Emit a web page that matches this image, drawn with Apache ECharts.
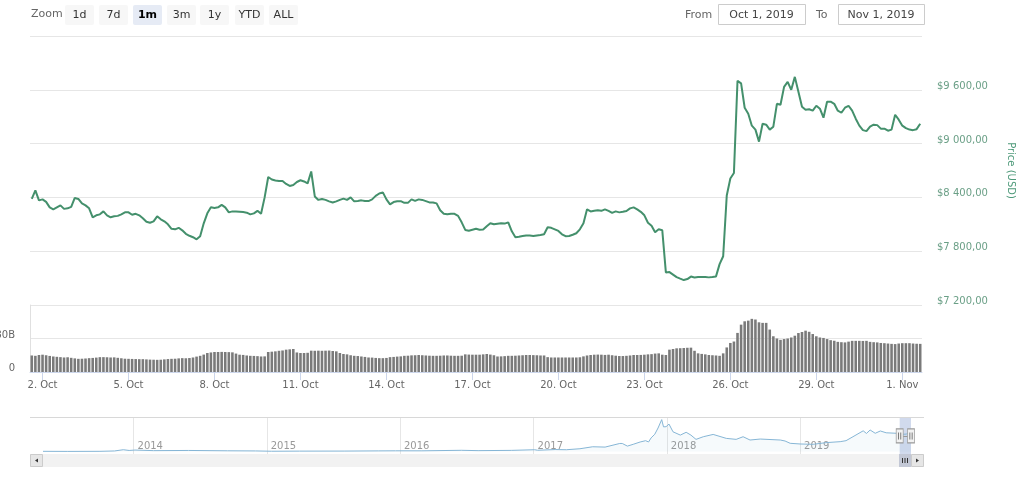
<!DOCTYPE html>
<html><head><meta charset="utf-8">
<script src="https://cdn.jsdelivr.net/npm/echarts@6/dist/echarts.min.js"></script>
<style>html,body{margin:0;padding:0;background:#fff}#c{width:1024px;height:477px}</style>
</head><body><div id="c"></div>
<script>
// ---- data (3-hourly samples, first sample Oct 1 2019 15:00 UTC) ----
const startTime = Date.UTC(2019, 9, 1, 15);
const stepHours = 3;
const price = [
 8383,8478,8367,8378,8350,8289,8267,8289,
 8311,8272,8278,8294,8394,8383,8333,8311,
 8278,8178,8200,8211,8244,8200,8178,8189,
 8194,8211,8233,8233,8206,8217,8200,8167,
 8128,8117,8133,8189,8156,8133,8100,8050,
 8044,8061,8033,7994,7972,7956,7933,7967,
 8111,8222,8289,8283,8289,8317,8289,8233,
 8244,8244,8241,8236,8230,8211,8222,8250,
 8217,8400,8628,8600,8589,8583,8583,8550,
 8528,8539,8572,8591,8578,8556,8689,8411,
 8372,8383,8372,8356,8344,8356,8372,8386,
 8372,8400,8356,8361,8367,8359,8359,8378,
 8417,8444,8456,8378,8322,8348,8356,8358,
 8339,8339,8378,8361,8378,8372,8359,8344,
 8344,8333,8256,8217,8211,8217,8217,8194,
 8122,8037,8028,8039,8050,8039,8041,8078,
 8111,8100,8106,8111,8108,8122,8022,7956,
 7961,7969,7976,7974,7970,7976,7980,7989,
 8067,8061,8044,8026,7989,7967,7969,7983,
 8000,8044,8111,8267,8244,8250,8256,8250,
 8267,8250,8228,8244,8233,8239,8248,8278,
 8289,8267,8239,8200,8117,8083,8011,8044,
 8033,7563,7567,7539,7511,7494,7478,7489,
 7517,7506,7511,7511,7513,7508,7513,7519,
 7656,7744,8422,8611,8672,9700,9672,9400,
 9333,9200,9156,9022,9222,9211,9156,9189,
 9444,9433,9633,9689,9600,9744,9578,9411,
 9378,9383,9367,9422,9389,9289,9467,9467,
 9444,9367,9344,9400,9422,9367,9278,9200,
 9150,9139,9189,9211,9206,9167,9167,9144,
 9156,9322,9267,9200,9172,9156,9150,9161,
 9222
];
// volume in billions USD
const volume = [
 14.8,14.5,15.2,15.5,15.0,14.4,13.9,13.6,
 13.3,13.0,13.2,12.7,12.2,11.8,11.9,12.1,
 12.4,12.6,12.9,13.3,13.3,13.2,13.0,13.1,
 12.7,12.3,11.9,11.8,11.7,11.6,11.5,11.5,
 11.3,11.1,11.0,10.9,11.0,11.3,11.6,11.8,
 11.9,12.2,12.4,12.3,12.5,13.0,13.8,14.5,
 15.6,17.0,17.5,17.9,17.9,18.0,17.9,17.8,
 17.6,16.5,15.5,15.3,14.8,14.5,14.4,14.2,
 13.9,14.0,17.9,18.2,18.5,19.0,19.3,20.0,
 20.3,20.6,17.5,17.0,17.0,17.2,19.1,19.0,
 19.1,19.0,19.1,19.2,18.8,18.5,17.0,16.1,
 15.8,15.0,14.5,14.3,13.9,13.5,13.0,12.9,
 12.6,12.4,12.4,12.6,13.3,13.5,13.8,14.0,
 14.5,14.6,14.9,15.0,15.2,15.0,14.8,14.6,
 14.5,14.5,14.6,14.8,14.8,14.6,14.5,14.5,
 14.6,15.8,15.6,15.5,15.5,15.5,15.8,16.1,
 15.6,15.0,13.9,14.0,14.2,14.5,14.5,14.6,
 14.8,15.0,15.2,15.2,15.1,15.0,14.8,14.8,
 13.3,13.0,13.0,13.0,13.0,13.0,13.0,13.0,
 13.0,13.2,14.0,14.8,15.2,15.5,15.6,15.5,
 15.3,15.5,15.0,14.6,14.3,14.3,14.5,14.8,
 15.2,15.2,15.3,15.5,15.8,16.0,16.5,16.7,
 15.5,15.2,20.0,20.6,21.2,21.3,21.5,21.7,
 21.8,19.0,16.7,16.2,15.8,15.2,15.0,14.8,
 14.5,16.7,22.0,26.0,27.3,35.0,42.4,45.4,
 46.0,47.6,47.0,44.5,44.0,44.0,38.0,32.0,
 30.0,28.8,29.5,30.0,30.9,32.5,34.9,35.8,
 37.0,36.0,34.0,32.0,30.9,30.5,29.5,28.5,
 28.0,27.0,26.7,26.5,27.2,27.9,27.9,27.9,
 27.8,27.9,27.0,26.7,26.5,26.0,25.8,25.5,
 25.2,25.0,25.5,25.8,25.8,25.8,25.5,25.3,
 25.2
];
// navigator (full history, shape)
const navDates = [
 '2013-04-28','2013-07-05','2013-10-01','2013-11-10','2013-12-04','2013-12-20',
 '2014-01-05','2014-02-25','2014-06-01','2014-09-15','2014-12-01',
 '2015-01-14','2015-04-01','2015-08-01','2015-11-04','2015-12-20',
 '2016-03-01','2016-06-17','2016-08-02','2016-11-01',
 '2017-01-04','2017-01-12','2017-03-01','2017-04-01','2017-05-08','2017-06-12',
 '2017-07-16','2017-08-25','2017-09-01','2017-09-15','2017-10-01','2017-10-20',
 '2017-11-04','2017-11-12','2017-11-19','2017-11-29','2017-12-08','2017-12-18',
 '2017-12-23','2017-12-30','2018-01-07','2018-01-18','2018-02-07','2018-02-23',
 '2018-03-08','2018-03-22','2018-04-11','2018-05-08','2018-06-13','2018-07-10',
 '2018-07-29','2018-08-17','2018-09-14','2018-11-08','2018-11-21','2018-12-05',
 '2019-01-01','2019-02-06','2019-03-13','2019-04-21','2019-05-07','2019-05-26',
 '2019-06-23','2019-07-02','2019-07-12','2019-07-26','2019-08-09','2019-08-25',
 '2019-09-22','2019-09-28','2019-10-19','2019-10-26','2019-11-01'
];
const navValues = [
 130,70,130,350,1100,650,
 900,550,650,450,370,
 180,250,280,400,440,
 430,750,550,700,
 1100,780,1200,1100,1700,2900,
 2700,4900,4900,3300,4400,5800,
 6600,5800,8300,10500,14300,19400,
 15000,15100,16700,12000,10000,11700,
 10000,7400,9000,10400,8000,7400,
 9000,7000,7600,7000,6400,5000,
 4600,4400,5400,6000,6600,9000,
 12600,11000,13100,11100,12500,11400,
 11100,10400,10600,11600,11400
];
const selFrom = '2019-10-01', selTo = '2019-11-01';
const zoomButtons = ['1d','7d','1m','3m','1y','YTD','ALL'];
const activeButton = '1m';
const rangeLabels = ['Oct 1, 2019','Nov 1, 2019'];
const monthNames = ['Jan','Feb','Mar','Apr','May','Jun','Jul','Aug','Sep','Oct','Nov','Dec'];

// ---- build ----
const FONT = 'DejaVu Sans';
const cats = price.map((_, i) => String(startTime + i * stepHours * 3600e3));
const labelEvery = (idx) => {
  const d = new Date(+cats[idx]);
  const dayIdx = Math.round((Date.UTC(d.getUTCFullYear(), d.getUTCMonth(), d.getUTCDate()) - Date.UTC(2019, 9, 2)) / 864e5);
  return d.getUTCHours() === 0 && dayIdx % 3 === 0;
};
const dayFmt = (v) => { const d = new Date(+v); return d.getUTCDate() + '. ' + monthNames[d.getUTCMonth()]; };
const moneyFmt = (v) => '$' + String(v).replace(/\B(?=(\d{3})+(?!\d))/g, ' ') + ',00';
const ts = (s) => { const p = s.split('-'); return Date.UTC(+p[0], +p[1] - 1, +p[2]); };
const navData = navDates.map((d, i) => [ts(d), navValues[i]]);
const handleY = 9500;

const graphics = [];
graphics.push({type:'text', left:31, top:9, style:{text:'Zoom', fill:'#666', font:'11px ' + FONT}});
const btnX = [65, 99, 133, 167, 200, 235, 269];
zoomButtons.forEach((b, i) => {
  const act = b === activeButton;
  graphics.push({type:'rect', shape:{x:btnX[i], y:5, width:29, height:20, r:2}, style:{fill: act ? '#e6ebf5' : '#f7f7f7'}});
  graphics.push({type:'text', x:btnX[i] + 14.5, y:15, style:{text:b, fill: act ? '#000' : '#333', font:(act ? 'bold ' : '') + '11px ' + FONT, textAlign:'center', textVerticalAlign:'middle'}});
});
graphics.push({type:'text', x:685, y:15, style:{text:'From', fill:'#666', font:'11px ' + FONT, textVerticalAlign:'middle'}});
graphics.push({type:'text', x:816, y:15, style:{text:'To', fill:'#666', font:'11px ' + FONT, textVerticalAlign:'middle'}});
[[718, 87], [838, 86]].forEach((b, i) => {
  graphics.push({type:'rect', shape:{x:b[0] + 0.5, y:4.5, width:b[1], height:20}, style:{fill:'#fff', stroke:'#ccc', lineWidth:1}});
  graphics.push({type:'text', x:b[0] + b[1] / 2, y:15, style:{text:rangeLabels[i], fill:'#444', font:'11px ' + FONT, textAlign:'center', textVerticalAlign:'middle'}});
});
// navigator outline + scrollbar
graphics.push({type:'line', shape:{x1:30, y1:417.5, x2:924, y2:417.5}, style:{stroke:'#d8d8d8', lineWidth:1}, z:10});
graphics.push({type:'rect', shape:{x:30, y:454, width:894, height:13}, style:{fill:'#f2f2f2'}, z:10});
graphics.push({type:'rect', shape:{x:30.5, y:454.5, width:12, height:12}, style:{fill:'#e6e6e6', stroke:'#cccccc', lineWidth:1}, z:11});
graphics.push({type:'polygon', shape:{points:[[35, 460.5], [38, 458.5], [38, 462.5]]}, style:{fill:'#333'}, z:12});
graphics.push({type:'rect', shape:{x:911.5, y:454.5, width:12, height:12}, style:{fill:'#e6e6e6', stroke:'#cccccc', lineWidth:1}, z:11});
graphics.push({type:'polygon', shape:{points:[[919, 460.5], [916, 458.5], [916, 462.5]]}, style:{fill:'#333'}, z:12});
graphics.push({type:'rect', shape:{x:899, y:454, width:12, height:13}, style:{fill:'#c3c8d6'}, z:11});
[902.5, 905, 907.5].forEach(x => graphics.push({type:'line', shape:{x1:x, y1:458, x2:x, y2:463}, style:{stroke:'#333', lineWidth:1}, z:12}));

const gridBase = {containLabel:false, outerBoundsMode:'none'};
const option = {
  animation: false,
  backgroundColor: '#fff',
  textStyle: {fontFamily: FONT},
  grid: [
    Object.assign({left:30, right:102, top:36, height:269}, gridBase),
    Object.assign({left:30, right:102, top:305, height:67}, gridBase),
    Object.assign({left:43, right:113, top:417, height:37}, gridBase)
  ],
  xAxis: [
    {type:'category', gridIndex:0, data:cats, boundaryGap:true, axisLine:{show:false}, axisTick:{show:false}, axisLabel:{show:false}, splitLine:{show:false}},
    {type:'category', gridIndex:1, data:cats, boundaryGap:true,
      axisLine:{show:true, lineStyle:{color:'#ccd6eb'}},
      axisTick:{show:true, interval:labelEvery, alignWithLabel:true, length:8, lineStyle:{color:'#ccd6eb'}},
      axisLabel:{interval:labelEvery, formatter:dayFmt, color:'#666', fontSize:10, margin:8, fontFamily:FONT},
      splitLine:{show:false}},
    {type:'time', gridIndex:2, min:ts(navDates[0]), max:ts(navDates[navDates.length - 1]), splitNumber:6,
      axisLine:{show:false}, axisTick:{show:false},
      splitLine:{show:true, showMinLine:false, showMaxLine:false, lineStyle:{color:'#e6e6e6'}},
      axisLabel:{inside:true, align:'left', margin:3, padding:[0,0,0,4], color:'#999', fontSize:10, fontFamily:FONT, showMinLabel:false, showMaxLabel:false,
        formatter:(v) => { const d = new Date(v); return (d.getUTCMonth() === 0 && d.getUTCDate() === 1) ? String(d.getUTCFullYear()) : ''; }}}
  ],
  yAxis: [
    {type:'value', gridIndex:0, position:'right', min:7200, max:10200, interval:600,
      axisLine:{show:false}, axisTick:{show:false},
      splitLine:{show:true, lineStyle:{color:'#e6e6e6'}},
      axisLabel:{formatter:moneyFmt, color:'#6a9f86', fontSize:10, fontFamily:FONT, margin:15, showMaxLabel:false, verticalAlign:'bottom', lineHeight:7},
      name:'Price (USD)', nameLocation:'middle', nameRotate:-90, nameGap:84,
      nameTextStyle:{color:'#4e9a7a', fontSize:10, fontFamily:FONT}},
    {type:'value', gridIndex:1, position:'left', min:0, max:60, interval:30,
      axisLine:{show:true, lineStyle:{color:'#e0e0e0'}}, axisTick:{show:false},
      splitLine:{show:true, lineStyle:{color:'#e6e6e6'}},
      axisLabel:{formatter:(v) => v === 0 ? '0' : v + 'B', color:'#666', fontSize:10, fontFamily:FONT, margin:15, showMaxLabel:false, verticalAlign:'bottom', lineHeight:7}},
    {type:'value', gridIndex:2, min:-1500, max:21000, show:false, splitLine:{show:false}}
  ],
  series: [
    {type:'line', name:'Price', xAxisIndex:0, yAxisIndex:0, data:price, symbol:'none', showSymbol:false,
      lineStyle:{color:'#44906c', width:2}, z:3},
    {type:'bar', name:'Volume', xAxisIndex:1, yAxisIndex:1, data:volume, barCategoryGap:'28%',
      itemStyle:{color:'#7a7a7a'}},
    {type:'line', name:'Navigator', xAxisIndex:2, yAxisIndex:2, data:navData, symbol:'none', showSymbol:false,
      lineStyle:{color:'#86b6d6', width:1}, areaStyle:{color:'rgba(134,182,214,0.1)'},
      markArea:{silent:true, itemStyle:{color:'rgba(102,133,194,0.3)'}, data:[[{xAxis:ts(selFrom)}, {xAxis:ts(selTo)}]]},
      markLine:{silent:true, symbol:'none', label:{show:false}, lineStyle:{color:'#999', type:'solid', width:1},
        data:[[{coord:[ts(selFrom), handleY]}, {coord:[ts(selTo), handleY]}]]},
      markPoint:{silent:true, label:{show:false}, data:[
        {coord:[ts(selFrom), handleY], symbol:'rect', symbolSize:[7, 14], itemStyle:{color:'#f2f2f2', borderColor:'#999', borderWidth:1}},
        {coord:[ts(selTo), handleY], symbol:'rect', symbolSize:[7, 14], itemStyle:{color:'#f2f2f2', borderColor:'#999', borderWidth:1}},
        {coord:[ts(selFrom), handleY], symbol:'path://M0,0 L1,0 L1,10 L0,10 Z M3,0 L4,0 L4,10 L3,10 Z', symbolSize:[3, 7], itemStyle:{color:'#555'}},
        {coord:[ts(selTo), handleY], symbol:'path://M0,0 L1,0 L1,10 L0,10 Z M3,0 L4,0 L4,10 L3,10 Z', symbolSize:[3, 7], itemStyle:{color:'#555'}}
      ]}, z:2}
  ],
  graphic: graphics
};
const chart = echarts.init(document.getElementById('c'));
chart.setOption(option);
</script></body></html>
